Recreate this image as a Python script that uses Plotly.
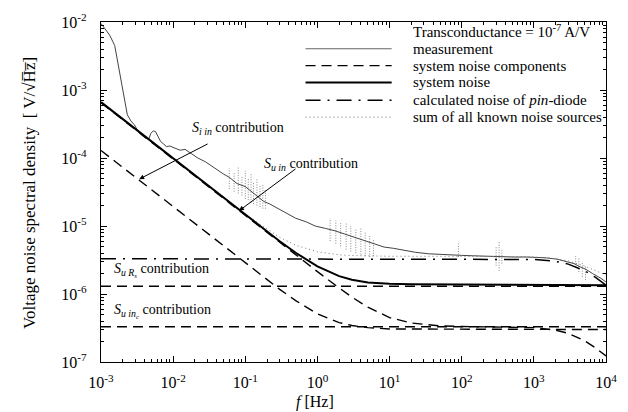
import plotly.graph_objects as go

# ---------------- data ----------------
meas_f = [1.0e-3, 1.15e-3, 1.32e-3, 1.55e-3, 1.82e-3, 2.12e-3, 2.32e-3, 2.6e-3, 2.89e-3, 3.18e-3,
          3.6e-3, 4.2e-3, 4.6e-3, 4.9e-3, 5.3e-3, 5.7e-3, 6.2e-3, 6.7e-3, 7.4e-3, 8.1e-3,
          9e-3, 1.07e-2, 1.25e-2, 1.46e-2, 1.77e-2, 2.2e-2, 2.8e-2, 3.5e-2, 4.1e-2, 5e-2,
          6e-2, 7.7e-2, 0.1, 0.13, 0.18, 0.22, 0.27, 0.35, 0.5, 0.7,
          0.93, 1.3, 1.75, 2.4, 3.3, 4.5, 6.1, 8.4, 11.3, 16,
          23, 35, 50, 66, 100, 140, 190, 280, 380, 520,
          800, 1100, 1500, 2100, 2900, 3600, 4400, 5300, 6500, 7500, 8500, 1e4]
meas_v = [9.5e-3, 7.8e-3, 6.4e-3, 4.5e-3, 1.8e-3, 7.4e-4, 4.3e-4, 3.5e-4, 3.1e-4, 2.6e-4,
          2.2e-4, 1.95e-4, 1.9e-4, 2.3e-4, 2.5e-4, 2.45e-4, 2.0e-4, 1.75e-4, 1.6e-4, 1.47e-4,
          1.5e-4, 1.38e-4, 1.3e-4, 1.34e-4, 1.17e-4, 1.0e-4, 8.8e-5, 7.5e-5, 6.5e-5, 5.8e-5,
          5.2e-5, 4.2e-5, 3.8e-5, 3.0e-5, 2.3e-5, 2.1e-5, 1.85e-5, 1.6e-5, 1.3e-5, 1.15e-5,
          1.0e-5, 9.2e-6, 8.5e-6, 7.6e-6, 6.8e-6, 6.0e-6, 5.5e-6, 4.9e-6, 4.7e-6, 4.4e-6,
          4.1e-6, 3.9e-6, 3.8e-6, 3.75e-6, 3.7e-6, 3.65e-6, 3.6e-6, 3.6e-6, 3.55e-6, 3.5e-6,
          3.5e-6, 3.45e-6, 3.4e-6, 3.25e-6, 3.0e-6, 2.8e-6, 2.5e-6, 2.3e-6, 2.0e-6, 1.85e-6, 1.7e-6, 1.5e-6]

# noisy spikes of the measurement
spike_f  = [0.06, 0.07, 0.08, 0.09, 0.1, 0.11, 0.12, 0.13, 0.145, 0.16, 0.175, 0.19,
            1.5, 1.8, 2.1, 2.5, 2.9, 3.4, 4.0, 4.6, 5.3, 6.0,
            90, 300, 330, 360, 3800, 4200, 4700, 5200]
spike_lo = [3.5e-5, 3.2e-5, 3.0e-5, 2.8e-5, 2.5e-5, 2.4e-5, 2.2e-5, 2.1e-5, 2.0e-5, 1.9e-5, 1.8e-5, 1.8e-5,
            6.0e-6, 5.5e-6, 5.0e-6, 4.5e-6, 4.2e-6, 4.0e-6, 3.8e-6, 3.6e-6, 3.5e-6, 3.6e-6,
            3.5e-6, 2.6e-6, 2.2e-6, 2.8e-6, 2.5e-6, 2.1e-6, 1.8e-6, 1.6e-6]
spike_hi = [7.0e-5, 6.0e-5, 7.5e-5, 5.5e-5, 6.5e-5, 5.0e-5, 5.8e-5, 4.5e-5, 5.0e-5, 4.0e-5, 4.2e-5, 3.4e-5,
            1.3e-5, 1.2e-5, 1.1e-5, 1.1e-5, 1.0e-5, 9.0e-6, 9.5e-6, 8.0e-6, 7.5e-6, 6.5e-6,
            5.5e-6, 5.0e-6, 6.0e-6, 4.6e-6, 3.6e-6, 3.4e-6, 3.0e-6, 2.6e-6]

# system noise components (dashed)
s_uin_f = [1e-3, 1e-2, 1e-1, 0.3, 1, 2, 3, 5, 10, 20, 50, 100, 300, 1000, 2000, 3000, 5000, 7000, 1e4]
s_uin_v = [6.5e-4, 9.6e-5, 1.42e-5, 5.7e-6, 2.13e-6, 1.23e-6, 9.0e-7, 6.4e-7, 4.5e-7, 3.74e-7,
           3.4e-7, 3.33e-7, 3.3e-7, 3.2e-7, 2.95e-7, 2.64e-7, 2.06e-7, 1.64e-7, 1.23e-7]
s_iin_f = [1e-3, 1e-2, 1e-1, 0.3, 0.5, 1, 2, 3, 5, 10, 1e4]
s_iin_v = [1.29e-4, 1.91e-5, 2.82e-6, 1.17e-6, 8.0e-7, 5.1e-7, 3.8e-7, 3.44e-7, 3.2e-7, 3.06e-7, 3.0e-7]
s_urs_f = [1e-3, 1e4]
s_urs_v = [1.3e-6, 1.3e-6]
s_uinc_f = [1e-3, 1e4]
s_uinc_v = [3.3e-7, 3.3e-7]

# system noise (solid)
sys_f = [1e-3, 1e-2, 1e-1, 0.3, 0.5, 1, 2, 3, 5, 10, 20, 50, 100, 1000, 3000, 1e4]
sys_v = [6.63e-4, 9.79e-5, 1.453e-5, 5.96e-6, 4.04e-6, 2.55e-6, 1.83e-6, 1.62e-6, 1.48e-6, 1.41e-6,
         1.386e-6, 1.377e-6, 1.376e-6, 1.372e-6, 1.36e-6, 1.34e-6]

# calculated noise of pin-diode (dash-dot)
pin_f = [1e-3, 300, 1000, 2000, 3000, 5000, 7000, 1e4]
pin_v = [3.3e-6, 3.3e-6, 3.22e-6, 3.02e-6, 2.75e-6, 2.21e-6, 1.78e-6, 1.35e-6]

# sum of all known noise sources (dotted)
sum_f = [1e-3, 1e-2, 1e-1, 0.3, 0.5, 1, 2, 3, 5, 10, 100, 1000, 2000, 3000, 5000, 7000, 1e4]
sum_v = [6.63e-4, 9.8e-5, 1.49e-5, 6.81e-6, 5.22e-6, 4.17e-6, 3.77e-6, 3.68e-6, 3.62e-6, 3.59e-6,
         3.58e-6, 3.5e-6, 3.31e-6, 3.07e-6, 2.59e-6, 2.23e-6, 1.9e-6]

x_exps = [-3, -2, -1, 0, 1, 2, 3, 4]
y_exps = [-7, -6, -5, -4, -3, -2]

legend_labels = ["measurement", "system noise components", "system noise",
                 "calculated noise of <i>pin</i>-diode", "sum of all known noise sources"]

# ---------------- figure ----------------
FONT = "Liberation Serif, Times New Roman, serif"
W, H = 628, 412
ML, MR, MT, MB = 101, 11, 19, 50
PW, PH = W - ML - MR, H - MT - MB

def px2x(px):
    return (px - ML) / PW

def py2y(py):
    return (H - MB - py) / PH

DASH = "10px,6px"
PINDASH = "15px,7px,2px,7px"

fig = go.Figure()

sx, sy = [], []
for f, lo, hi in zip(spike_f, spike_lo, spike_hi):
    sx += [f, f, None]
    sy += [lo, hi, None]
fig.add_trace(go.Scatter(x=sx, y=sy, mode="lines",
                         line=dict(color="#8a8a8a", width=1, dash="1px,1.5px"), hoverinfo="skip"))
fig.add_trace(go.Scatter(x=meas_f, y=meas_v, mode="lines", line=dict(color="#444444", width=1)))
fig.add_trace(go.Scatter(x=sum_f, y=sum_v, mode="lines",
                         line=dict(color="#777777", width=1, dash="1px,3px")))
fig.add_trace(go.Scatter(x=pin_f, y=pin_v, mode="lines",
                         line=dict(color="black", width=1.5, dash=PINDASH)))
for fx, vy in [(s_urs_f, s_urs_v), (s_uinc_f, s_uinc_v), (s_iin_f, s_iin_v), (s_uin_f, s_uin_v)]:
    fig.add_trace(go.Scatter(x=fx, y=vy, mode="lines",
                             line=dict(color="black", width=1.4, dash=DASH)))
fig.add_trace(go.Scatter(x=sys_f, y=sys_v, mode="lines", line=dict(color="black", width=2)))

def minor_vals(exps):
    return [k * 10.0 ** e for e in exps[:-1] for k in range(2, 10)]

def axis_cfg(exps):
    return dict(type="log", tickmode="array",
                tickvals=[10.0 ** e for e in exps],
                ticktext=["10<sup>%d</sup>" % e for e in exps],
                showgrid=False, ticks="inside", ticklen=6, tickcolor="black", tickwidth=1,
                showline=True, linecolor="black", linewidth=1.3, mirror="ticks",
                zeroline=False, tickfont=dict(family=FONT, size=16, color="black"),
                minor=dict(ticks="inside", ticklen=3, tickcolor="black", tickwidth=1,
                           showgrid=False, tickmode="array", tickvals=minor_vals(exps)))

fig.update_xaxes(range=[-3, 4], ticklabelstandoff=6, **axis_cfg(x_exps))
fig.update_yaxes(range=[-7, -2], ticklabelstandoff=10, **axis_cfg(y_exps))

shapes = []
annotations = []
leg_font = dict(family=FONT, size=15, color="black")
leg_rows = [46, 63, 80, 98, 115]
leg_styles = [dict(color="#666666", width=1, dash="solid"),
              dict(color="black", width=1.4, dash=DASH),
              dict(color="black", width=2, dash="solid"),
              dict(color="black", width=1.5, dash=PINDASH),
              dict(color="#777777", width=1, dash="1px,3px")]
for row, st, lab in zip(leg_rows, leg_styles, legend_labels):
    shapes.append(dict(type="line", xref="paper", yref="paper",
                       x0=px2x(310), x1=px2x(398), y0=py2y(row), y1=py2y(row), line=st))
    annotations.append(dict(xref="paper", yref="paper", x=px2x(418), y=py2y(row),
                            xanchor="left", yanchor="middle", showarrow=False, text=lab,
                            font=leg_font))
annotations.append(dict(xref="paper", yref="paper", x=px2x(418), y=py2y(28),
                        xanchor="left", yanchor="middle", showarrow=False,
                        text="Transconductance = 10<sup>-7</sup> A/V", font=leg_font))

lab_font = dict(family=FONT, size=14, color="black")
annotations += [
    dict(x=-1.765, y=-3.567, xanchor="left", yanchor="middle", showarrow=False,
         text="<i>S</i><sub><i>i in</i></sub> contribution", font=lab_font),
    dict(x=-0.775, y=-4.092, xanchor="left", yanchor="middle", showarrow=False,
         text="<i>S</i><sub><i>u in</i></sub> contribution", font=lab_font),
    dict(x=-2.851, y=-5.652, xanchor="left", yanchor="middle", showarrow=False,
         text="<i>S</i><sub><i>u R</i><sub><i>s</i></sub></sub> contribution", font=lab_font),
    dict(x=-2.851, y=-6.249, xanchor="left", yanchor="middle", showarrow=False,
         text="<i>S</i><sub><i>u in</i><sub><i>c</i></sub></sub> contribution", font=lab_font),
    dict(x=-2.471, y=-4.311, ax=70, ay=-36, text="", showarrow=True, arrowhead=2,
         arrowsize=1, arrowwidth=1, arrowcolor="black", standoff=0, startstandoff=0),
    dict(x=-1.087, y=-4.777, ax=58, ay=-43, text="", showarrow=True, arrowhead=2,
         arrowsize=1, arrowwidth=1, arrowcolor="black", standoff=0, startstandoff=0),
    dict(xref="paper", yref="paper", x=px2x(28), y=py2y(192), showarrow=False,
         textangle=-90, xanchor="center", yanchor="middle",
         text="Voltage noise spectral density  [ V/\u221aH\u0305z\u0305]",
         font=dict(family=FONT, size=17, color="black")),
    dict(xref="paper", yref="paper", x=px2x(320), y=py2y(402), showarrow=False,
         xanchor="center", yanchor="middle", text="<i>f</i> [Hz]",
         font=dict(family=FONT, size=16, color="black")),
]

fig.update_layout(width=W, height=H, margin=dict(l=ML, r=MR, t=MT, b=MB),
                  paper_bgcolor="white", plot_bgcolor="white", showlegend=False,
                  shapes=shapes, annotations=annotations)

fig.write_html("out.html")
